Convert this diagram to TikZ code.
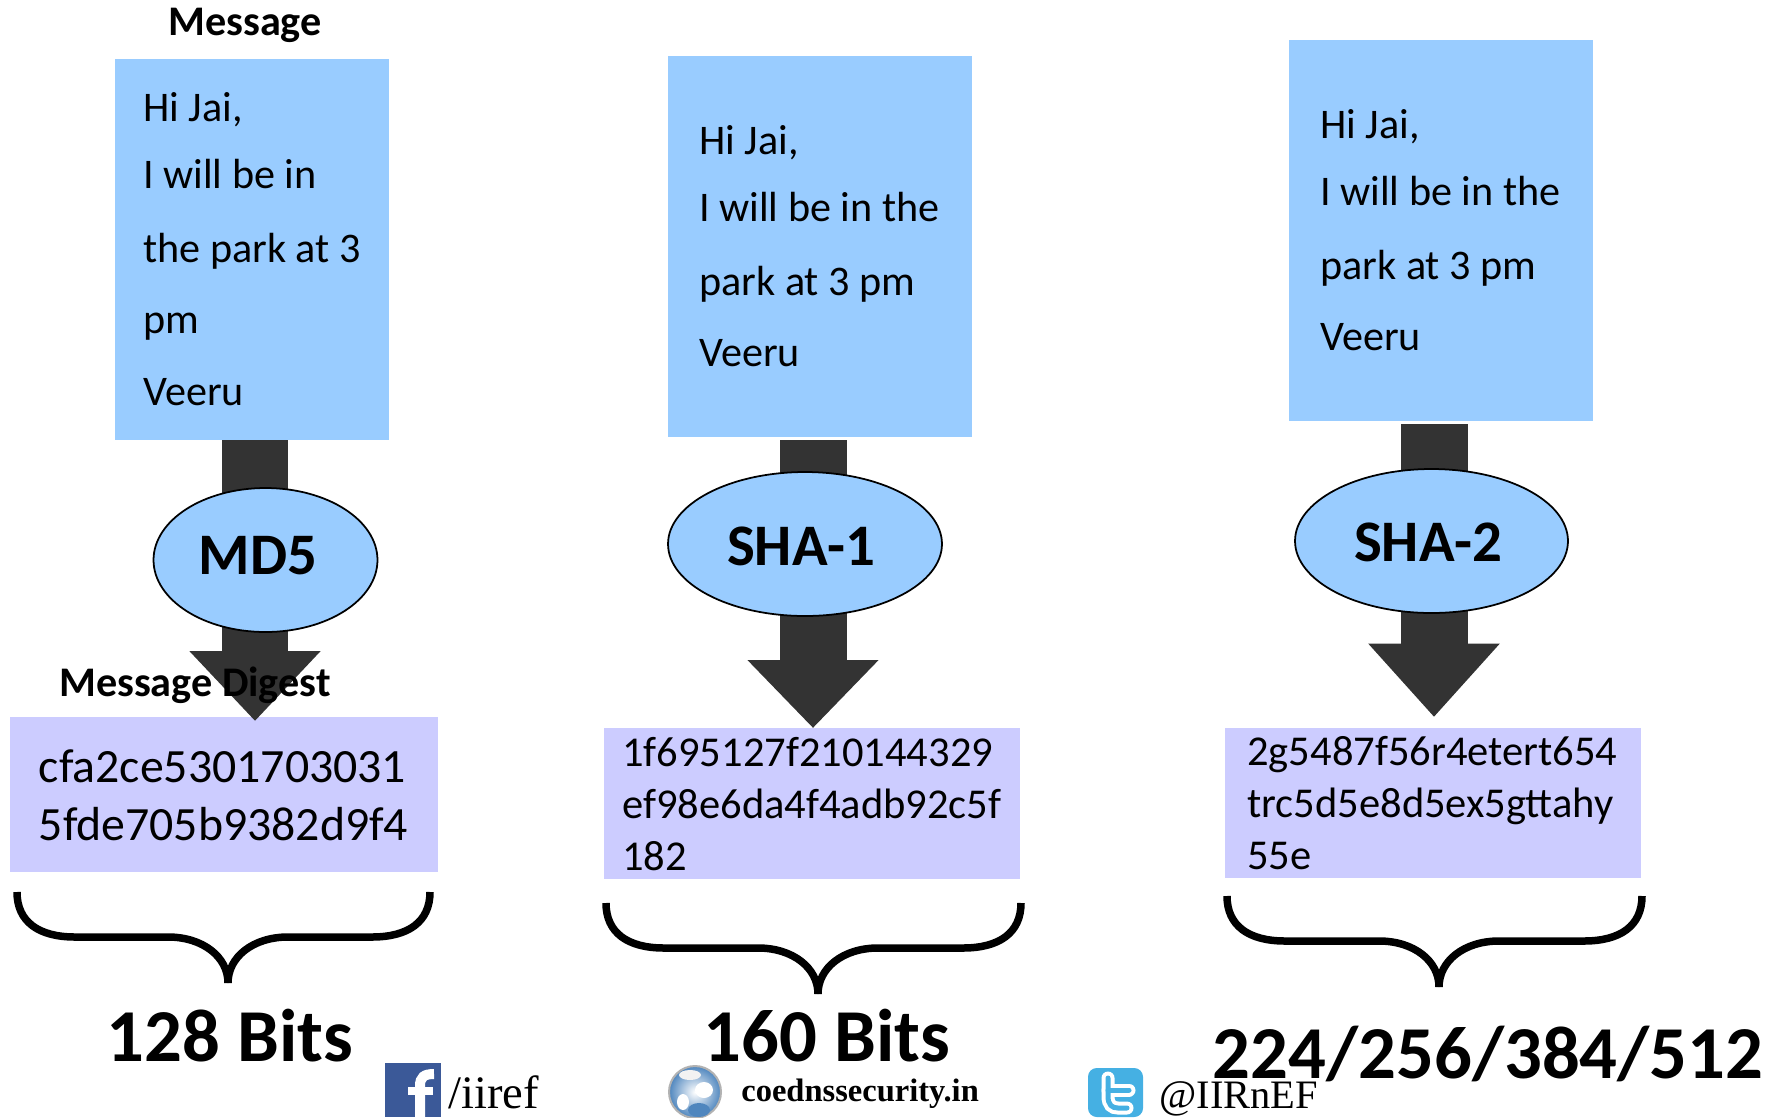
\documentclass[tikz,border=0pt]{standalone}
\usepackage{fontspec}
\setmainfont{Carlito}
\newfontfamily\webfont{Liberation Serif}
\usetikzlibrary{arrows.meta,shapes.geometric}
\definecolor{msgblue}{HTML}{99CCFF}
\definecolor{digestblue}{HTML}{CCCCFF}
\definecolor{arrowgrey}{HTML}{333333}
\definecolor{fbblue}{HTML}{3B5998}
\definecolor{twblue}{HTML}{45B0E3}
\definecolor{globeblue}{HTML}{4F86BE}
\tikzset{
    msgbox/.style={fill=msgblue,minimum height=7.62cm,inner sep=0pt},
    digestbox/.style={fill=digestblue,inner sep=0pt},
    hashnode/.style={ellipse,draw,fill=msgblue,line width=1pt,minimum height=2.88cm,inner sep=0pt},
    hashtext/.style={inner sep=0pt,font=\fontsize{33.5}{36}\selectfont\bfseries},
    blockarrow/.style={draw=arrowgrey,line width=1.34cm,-{Triangle[length=#1,width=2.54cm]}},
    msgtext/.style={anchor=west,align=left,inner sep=0pt,font=\fontsize{24}{40.5}\selectfont},
    labeltext/.style={inner sep=0pt,font=\fontsize{24}{26}\selectfont\bfseries},
    bitstext/.style={inner sep=0pt,font=\fontsize{42.5}{44}\selectfont\bfseries},
    curlybrace/.style={line width=0.15cm},
    webtext/.style={anchor=base west,inner sep=0pt}
}
\begin{document}
\begin{tikzpicture}[x=0.02cm,y=-0.02cm]
    \useasboundingbox (0,0) rectangle (1768,1117);

    \node[msgbox,minimum width=5.48cm] (M1) at (252,249.5) {};
    \node[msgbox,minimum width=6.08cm] (M2) at (820,246.5) {};
    \node[msgbox,minimum width=6.08cm] (M3) at (1441,230.5) {};
    \node[digestbox,minimum width=8.56cm,minimum height=3.1cm] (D1) at (224,794) {};
    \node[digestbox,minimum width=8.34cm,minimum height=3.02cm] (D2) at (812,803.5) {};
    \node[digestbox,minimum width=8.32cm,minimum height=3cm] (D3) at (1433,802.5) {};

    \coordinate (A1s) at (255,440); \coordinate (A1e) at (255,721);
    \coordinate (A2s) at (813,440); \coordinate (A2e) at (813,728);
    \coordinate (A3s) at (1434,424); \coordinate (A3e) at (1434,717);
    \draw[blockarrow=1.4cm] (A1s) -- (A1e); \draw[blockarrow=1.36cm] (A2s) -- (A2e); \draw[blockarrow=1.47cm] (A3s) -- (A3e);

    \node[hashnode,minimum width=4.48cm] (H1) at (265.5,560) {};
    \node[hashnode,minimum width=5.48cm] (H2) at (805,544) {};
    \node[hashnode,minimum width=5.46cm] (H3) at (1431.5,541) {};
    \node[hashtext] (N1) at (258,556) {MD5};
    \node[hashtext] (N2) at (801,546) {SHA-1};
    \node[hashtext] (N3) at (1428,542) {SHA-2};

    \node[msgtext] (T1) at (143,249) {Hi Jai,\\[-1.9pt]I will be in\\[1.3pt]the park at 3\\pm\\[.6pt]Veeru};
    \node[msgtext] (T2) at (699,246) {Hi Jai,\\[-1.9pt]I will be in the\\[1.3pt]park at 3 pm\\Veeru};
    \node[msgtext] (T3) at (1320,230) {Hi Jai,\\[-1.9pt]I will be in the\\[1.3pt]park at 3 pm\\Veeru};
    \node[msgtext,font=\fontsize{27.2}{33}\selectfont] (T4) at (38.5,795) {cfa2ce5301703031\\5fde705b9382d9f4};
    \node[msgtext,font=\fontsize{24.2}{29.8}\selectfont] (T5) at (622,804) {1f695127f210144329\\ef98e6da4f4adb92c5f\\182};
    \node[msgtext,font=\fontsize{24.2}{29.8}\selectfont] (T6) at (1247,803) {2g5487f56r4etert654\\trc5d5e8d5ex5gttahy\\55e};

    \node[labeltext] (L1) at (245,25) {Message};
    \node[labeltext] (L2) at (195,685) {Message Digest};

    \foreach \lx/\mx/\rx/\ty in {17/228/430/892,606/818/1021/903,1227/1439/1642/896}{
        \draw[curlybrace] (\lx,\ty) .. controls (\lx,\ty+30) and (\lx+22,\ty+45) .. (\lx+58,\ty+45) -- (\mx-60,\ty+45) .. controls (\mx-25,\ty+45) and (\mx,\ty+65) .. (\mx,\ty+91);
        \draw[curlybrace] (\rx,\ty) .. controls (\rx,\ty+30) and (\rx-22,\ty+45) .. (\rx-58,\ty+45) -- (\mx+60,\ty+45) .. controls (\mx+25,\ty+45) and (\mx,\ty+65) .. (\mx,\ty+91);
    }

    \node[bitstext] (B1) at (230,1036) {128 Bits};
    \node[bitstext] (B2) at (827,1036) {160 Bits};

    \node[webtext,font=\fontsize{26.5}{28}\selectfont\webfont] (W1) at (448,1108) {/iiref};
    \node[webtext,font=\fontsize{18.5}{20}\selectfont\webfont\bfseries] (W2) at (741,1101) {coednssecurity.in};
    \node[webtext,font=\fontsize{23}{26}\selectfont\webfont] (W3) at (1159,1108) {@IIRnEF};
    \node[bitstext] (B3) at (1488,1054) {224/256/384/512};

    \fill[fbblue] (385,1063) rectangle (441,1117);
    \draw[white,line width=.2cm] (420,1117) -- (420,1086) .. controls (420,1077) and (424,1074) .. (434,1074);
    \draw[white,line width=.17cm] (408,1091) -- (433,1091);

    \shade[inner color=white,outer color=globeblue] (695,1092) circle (26);
    \draw[gray!60,line width=.04cm] (695,1092) circle (26);
    \fill[white] (704,1090) ellipse (9 and 8); \fill[white] (683,1102) ellipse (6 and 8); \fill[white!90!gray] (690,1075) ellipse (11 and 5);
    \fill[globeblue] (699,1110) ellipse (11 and 7);

    \fill[twblue,rounded corners=5pt] (1088,1068) rectangle (1143,1117);
    \draw[white,line width=.26cm,line cap=round] (1108,1078) -- (1108,1096) .. controls (1108,1105) and (1112,1108) .. (1118,1108) -- (1127,1108);
    \draw[white,line width=.26cm,line cap=round] (1108,1090) -- (1129,1090);
    \draw[twblue,line width=.1cm,line cap=round] (1108,1078) -- (1108,1096) .. controls (1108,1105) and (1112,1108) .. (1118,1108) -- (1127,1108);
    \draw[twblue,line width=.1cm,line cap=round] (1108,1090) -- (1129,1090);
\end{tikzpicture}
\end{document}
